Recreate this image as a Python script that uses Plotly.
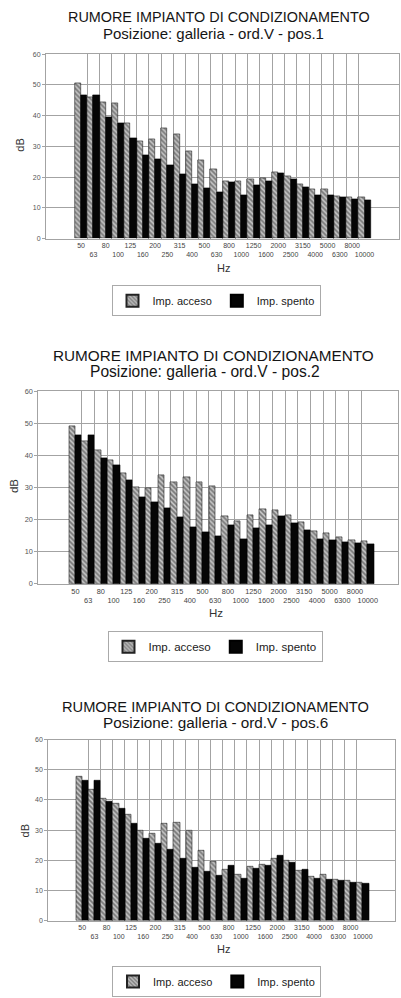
import plotly.graph_objects as go

# ---------------- data ----------------
freqs = ["50", "63", "80", "100", "125", "160", "200", "250", "315", "400", "500", "630",
         "800", "1000", "1250", "1600", "2000", "2500", "3150", "4000", "5000", "6300",
         "8000", "10000"]

pos1_acceso = [50.5, 45.9, 44.5, 44.2, 37.4, 31.8, 32.3, 35.9, 34.1, 28.3, 25.6, 22.6,
               18.8, 18.5, 19.4, 19.8, 21.7, 20.2, 17.8, 15.9, 16.1, 13.8, 13.3, 13.3]
pos1_spento = [46.5, 46.6, 39.5, 37.4, 32.7, 27.2, 25.7, 24.0, 21.0, 17.7, 16.3, 15.1,
               18.3, 14.2, 17.4, 18.5, 21.3, 19.4, 16.8, 14.2, 14.0, 13.3, 12.7, 12.5]

pos2_acceso = [49.1, 44.5, 41.7, 38.4, 34.4, 30.2, 29.9, 33.8, 31.6, 33.1, 31.5, 30.3,
               21.2, 19.5, 21.4, 23.1, 22.8, 21.3, 19.2, 16.3, 15.6, 14.6, 13.6, 13.2]
pos2_spento = [46.3, 46.3, 39.1, 37.0, 32.3, 27.0, 25.5, 23.6, 20.7, 17.5, 16.1, 14.8,
               18.2, 13.9, 17.2, 18.4, 21.2, 18.9, 16.6, 13.9, 13.7, 13.0, 12.5, 12.3]

pos6_acceso = [47.9, 43.5, 40.6, 38.8, 35.1, 29.9, 28.8, 32.2, 32.6, 29.8, 23.2, 19.5,
               16.8, 15.2, 17.9, 18.5, 20.7, 20.0, 16.6, 14.6, 15.2, 13.7, 13.3, 12.7]
pos6_spento = [46.5, 46.5, 39.3, 37.3, 32.3, 27.1, 25.5, 23.6, 20.6, 17.7, 16.2, 14.8,
               18.3, 13.9, 17.2, 18.3, 21.4, 19.2, 16.8, 14.0, 13.7, 13.2, 12.5, 12.3]

title_main = "RUMORE IMPIANTO DI CONDIZIONAMENTO"
subtitles = ["Posizione: galleria - ord.V - pos.1",
             "Posizione: galleria - ord.V - pos.2",
             "Posizione: galleria - ord.V - pos.6"]
series_names = ["Imp. acceso", "Imp. spento"]
y_ticks = [0, 10, 20, 30, 40, 50, 60]
x_label = "Hz"
y_label = "dB"

# ---------------- layout helpers ----------------
W, H = 401, 998
FONT = "Liberation Sans, Arial, Helvetica, sans-serif"
GRID = "#a3a3a3"

idx = list(range(len(freqs)))
ticktext = [f if i % 2 == 0 else "<br>" + f for i, f in enumerate(freqs)]
boundaries = [i + 0.5 for i in idx[:-1]]


def fx(px):
    return px / W


def fy(py):
    return 1 - py / H


# per chart pixel geometry
charts = [
    dict(acc=pos1_acceso, spe=pos1_spento, sub=subtitles[0],
         left=46, right=399, top=50.7, bottom=236.7, xr=[-2.85, 25.8],
         t1=(219, 13.5, 14.4), t2=(214, 29.5, 15.0),
         db=(20, 143), hz=(223, 266.5), leg=(216, 299.5), fs=1.0),
    dict(acc=pos2_acceso, spe=pos2_spento, sub=subtitles[1],
         left=38.3, right=398, top=390.7, bottom=585, xr=[-2.92, 25.38],
         t1=(214, 354.5, 15.3), t2=(205, 370.5, 15.6),
         db=(13.5, 487), hz=(216, 615), leg=(215, 648.5), fs=1.05),
    dict(acc=pos6_acceso, spe=pos6_spento, sub=subtitles[2],
         left=48.3, right=395, top=742.3, bottom=925, xr=[-2.78, 25.64],
         t1=(215.5, 709.5, 14.65), t2=(215.5, 725.5, 15.3),
         db=(25, 835), hz=(223, 954), leg=(216.5, 986.5), fs=1.0),
]

fig = go.Figure()
annotations = []
layout_axes = {}

for k, c in enumerate(charts):
    n = "" if k == 0 else str(k + 1)
    xa, ya = "x" + n, "y" + n
    legname = "legend" + n
    fig.add_trace(go.Bar(
        x=idx, y=c["acc"], name=series_names[0], xaxis=xa, yaxis=ya, legend=legname,
        marker=dict(color="#b8b8b8",
                    pattern=dict(shape="\\", fgcolor="#2e2e2e", bgcolor="#c4c4c4",
                                 size=3.5, solidity=0.5),
                    line=dict(color="#222222", width=0.6)),
        hoverinfo="skip"))
    fig.add_trace(go.Bar(
        x=idx, y=c["spe"], name=series_names[1], xaxis=xa, yaxis=ya, legend=legname,
        marker=dict(color="#050505", line=dict(color="#000000", width=0.6)),
        hoverinfo="skip"))

    layout_axes["xaxis" + n] = dict(
        domain=[fx(c["left"]), fx(c["right"])], anchor=ya, range=c["xr"],
        tickmode="array", tickvals=idx, ticktext=ticktext, tickangle=0,
        tickfont=dict(size=7 * c["fs"], color="#444444", family=FONT),
        ticks="", showgrid=False, zeroline=False,
        showline=True, linecolor=GRID, linewidth=1, mirror=True,
        minor=dict(tickmode="array", tickvals=boundaries, showgrid=True,
                   gridcolor=GRID, gridwidth=1, ticks=""),
        fixedrange=True)
    layout_axes["yaxis" + n] = dict(
        domain=[fy(c["bottom"]), fy(c["top"])], anchor=xa, range=[0, 60],
        tickmode="array", tickvals=y_ticks,
        tickfont=dict(size=7 * c["fs"], color="#555555", family=FONT),
        ticks="outside", ticklen=3, tickcolor=GRID,
        showgrid=True, gridcolor=GRID, gridwidth=1, zeroline=False,
        showline=True, linecolor=GRID, linewidth=1, mirror=True,
        fixedrange=True)
    layout_axes[legname] = dict(
        x=fx(c["leg"][0]), y=fy(c["leg"][1]), xanchor="center", yanchor="middle",
        orientation="h", bgcolor="white", bordercolor="#aaaaaa", borderwidth=1,
        font=dict(size=11 * c["fs"], color="#1a1a1a", family=FONT),
        itemsizing="constant", traceorder="normal")

    annotations += [
        dict(text=title_main, x=fx(c["t1"][0]), y=fy(c["t1"][1]), xref="paper", yref="paper",
             showarrow=False, xanchor="center", yanchor="middle",
             font=dict(size=c["t1"][2], color="#151515", family=FONT)),
        dict(text=c["sub"], x=fx(c["t2"][0]), y=fy(c["t2"][1]), xref="paper", yref="paper",
             showarrow=False, xanchor="center", yanchor="middle",
             font=dict(size=c["t2"][2], color="#151515", family=FONT)),
        dict(text=y_label, x=fx(c["db"][0]), y=fy(c["db"][1]), xref="paper", yref="paper",
             showarrow=False, xanchor="center", yanchor="middle", textangle=-90,
             font=dict(size=11 * c["fs"], color="#333333", family=FONT)),
        dict(text=x_label, x=fx(c["hz"][0]), y=fy(c["hz"][1]), xref="paper", yref="paper",
             showarrow=False, xanchor="center", yanchor="middle",
             font=dict(size=11 * c["fs"], color="#333333", family=FONT)),
    ]

fig.update_layout(
    width=W, height=H, margin=dict(l=0, r=0, t=0, b=0),
    paper_bgcolor="white", plot_bgcolor="white",
    barmode="group", bargap=0, bargroupgap=0,
    font=dict(family=FONT),
    annotations=annotations,
    **layout_axes)

fig.write_html("out.html", config=dict(displayModeBar=False))
